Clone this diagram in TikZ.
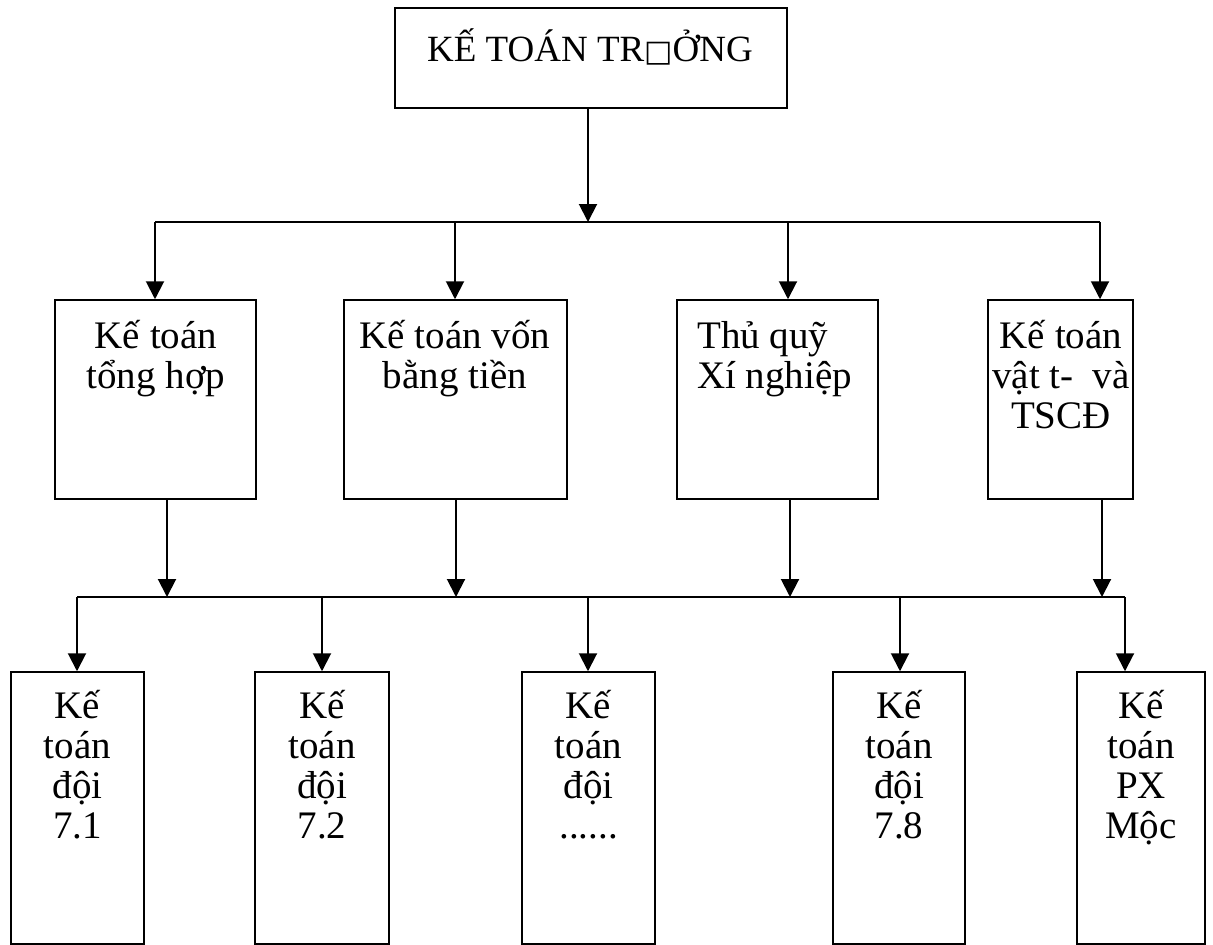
\documentclass[tikz,border=0pt]{standalone}
\usepackage{fontspec}
\setmainfont{Liberation Serif}
\newfontfamily\symfont{DejaVu Sans}
\usetikzlibrary{arrows.meta}
% fixed height for the first line of every label
\newcommand\firstline{\rule{0pt}{36pt}}
% keep a constant line pitch inside labels
\setlength{\lineskiplimit}{-60pt}
\begin{document}
\begin{tikzpicture}[x=1pt,y=-1pt,
  box/.style={draw, line width=1.5pt, inner sep=0pt},
  lbl/.style={inner sep=0pt, anchor=north, align=center,
    font=\fontsize{39}{40}\selectfont},
  conn/.style={line width=2pt, -{Triangle[width=18pt,length=18pt]}},
  bus/.style={line width=2pt}]
\useasboundingbox (0,0) rectangle (1213,945);

% boxes
\node[box, minimum width=392pt, minimum height=100pt] (top) at (591,58) {};
\node[box, minimum width=201pt, minimum height=199pt] (b1) at (155.5,399.5) {};
\node[box, minimum width=223pt, minimum height=199pt] (b2) at (455.5,399.5) {};
\node[box, minimum width=201pt, minimum height=199pt] (b3) at (777.5,399.5) {};
\node[box, minimum width=145pt, minimum height=199pt] (b4) at (1060.5,399.5) {};
\node[box, minimum width=133pt, minimum height=272pt] (c1) at (77.5,808) {};
\node[box, minimum width=134pt, minimum height=272pt] (c2) at (322,808) {};
\node[box, minimum width=133pt, minimum height=272pt] (c3) at (588.5,808) {};
\node[box, minimum width=132pt, minimum height=272pt] (c4) at (899,808) {};
\node[box, minimum width=128pt, minimum height=272pt] (c5) at (1141,808) {};

% labels
\node[lbl, font=\fontsize{37}{40}\selectfont] (ttop) at (590,25)
  {\firstline KẾ TOÁN TR{\symfont\fontsize{30}{30}\selectfont □}ỞNG};
\node[lbl] (tb1) at (156,312) {\firstline Kế toán\\tổng hợp};
\node[lbl] (tb2) at (455,312) {\firstline Kế toán vốn\\bằng tiền};
\node[lbl, anchor=north west, align=left] (tb3) at (697,312) {\firstline Thủ quỹ\\Xí nghiệp};
\node[lbl] (tb4) at (1061,312) {\firstline Kế toán\\vật t-~ và\\TSCĐ};
\node[lbl] (tc1) at (77.5,682) {\firstline Kế\\toán\\đội\\7.1};
\node[lbl] (tc2) at (322,682) {\firstline Kế\\toán\\đội\\7.2};
\node[lbl] (tc3) at (588.5,682) {\firstline Kế\\toán\\đội\\......};
\node[lbl] (tc4) at (899,682) {\firstline Kế\\toán\\đội\\7.8};
\node[lbl] (tc5) at (1141,682) {\firstline Kế\\toán\\PX\\Mộc};

% upper bus
\coordinate (j0) at (588,222);
\coordinate (u1) at (155,222);
\coordinate (u2) at (455,222);
\coordinate (u3) at (788,222);
\coordinate (u4) at (1100,222);
\draw[conn] (j0 |- top.south) -- (j0);
\draw[bus] (u1) -- (u4);
\draw[conn] (u1) -- (u1 |- b1.north);
\draw[conn] (u2) -- (u2 |- b2.north);
\draw[conn] (u3) -- (u3 |- b3.north);
\draw[conn] (u4) -- (u4 |- b4.north);

% lower bus
\coordinate (v1) at (167,597);
\coordinate (v2) at (456,597);
\coordinate (v3) at (790,597);
\coordinate (v4) at (1102,597);
\coordinate (w1) at (77,597);
\coordinate (w2) at (322,597);
\coordinate (w3) at (588,597);
\coordinate (w4) at (900,597);
\coordinate (w5) at (1125,597);
\draw[bus] (w1) -- (w5);
\draw[conn] (v1 |- b1.south) -- (v1);
\draw[conn] (v2 |- b2.south) -- (v2);
\draw[conn] (v3 |- b3.south) -- (v3);
\draw[conn] (v4 |- b4.south) -- (v4);
\draw[conn] (w1) -- (w1 |- c1.north);
\draw[conn] (w2) -- (w2 |- c2.north);
\draw[conn] (w3) -- (w3 |- c3.north);
\draw[conn] (w4) -- (w4 |- c4.north);
\draw[conn] (w5) -- (w5 |- c5.north);
\end{tikzpicture}
\end{document}
